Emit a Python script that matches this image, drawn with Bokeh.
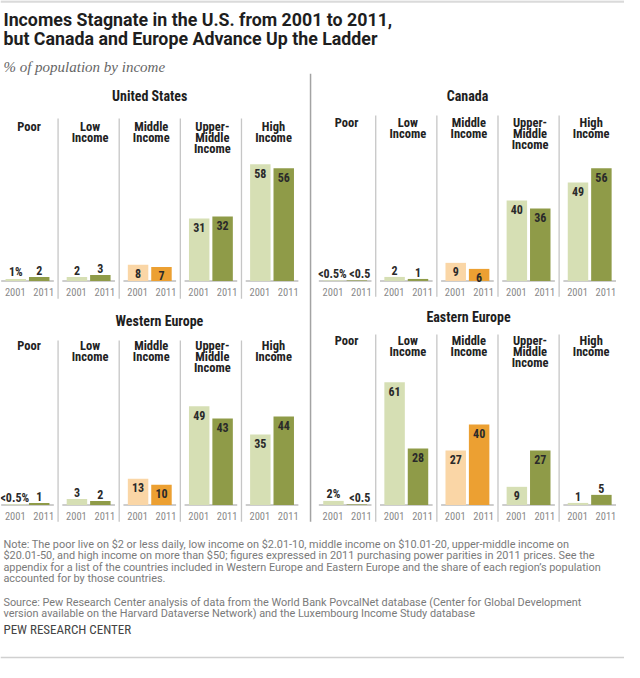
import subprocess
from bokeh.plotting import figure
from bokeh.models import Range1d
from bokeh.core.properties import value
from bokeh.embed import file_html
from bokeh.resources import INLINE

# ---------------- data ----------------
categories = ["Poor", "Low\nIncome", "Middle\nIncome", "Upper-\nMiddle\nIncome", "High\nIncome"]
years = ["2001", "2011"]
regions = ["United States", "Canada", "Western Europe", "Eastern Europe"]
us_2001 = [1, 2, 8, 31, 58]
us_2011 = [2, 3, 7, 32, 56]
canada_2001 = [0.3, 2, 9, 40, 49]
canada_2011 = [0.3, 1, 6, 36, 56]
weurope_2001 = [0.3, 3, 13, 49, 35]
weurope_2011 = [1, 2, 10, 43, 44]
eeurope_2001 = [2, 61, 27, 9, 1]
eeurope_2011 = [0.3, 28, 40, 27, 5]

title_lines = ["Incomes Stagnate in the U.S. from 2001 to 2011,",
               "but Canada and Europe Advance Up the Ladder"]
subtitle = "% of population by income"
note_lines = [
    "Note: The poor live on $2 or less daily, low income on $2.01-10, middle income on $10.01-20, upper-middle income on",
    "$20.01-50, and high income on more than $50; figures expressed in 2011 purchasing power parities in 2011 prices. See the",
    "appendix for a list of the countries included in Western Europe and Eastern Europe and the share of each region\u2019s population",
    "accounted for by those countries.",
]
source_lines = [
    "Source: Pew Research Center analysis of data from the World Bank PovcalNet database (Center for Global Development",
    "version available on the Harvard Dataverse Network) and the Luxembourg Income Study database",
]
credit = "PEW RESEARCH CENTER"

# ---------------- fonts ----------------
def font_available(name):
    try:
        out = subprocess.run(["fc-list", ":", "family"], capture_output=True,
                             text=True, timeout=10).stdout
    except Exception:
        return False
    return name.lower() in out.lower()

if font_available("Roboto Condensed"):
    COND, FS = "Roboto Condensed", 1.0
elif font_available("Liberation Sans Narrow"):
    COND, FS = "Liberation Sans Narrow", 1.0
else:
    COND, FS = "Roboto", 0.88
WIDE = "Roboto"
SERIF = "Liberation Serif"

def fs(n):
    return f"{n * FS:.1f}px"

# ---------------- colours ----------------
LIGHT_GREEN = "#d6dfb4"
DARK_GREEN = "#8f9b48"
LIGHT_ORANGE = "#fad6a6"
DARK_ORANGE = "#eca032"
SEP = "#c6c6c6"

# ---------------- layout (reference pixel frame) ----------------
X0, X1 = 0, 640
Y0, Y1 = 672, 4
STEP = 62.7          # px per income category
PX_PER_PCT = 2.03    # px per percentage point
LEFT_C0, RIGHT_C0 = 27.7, 353.5
TOP_BASE, BOT_BASE = 287, 513

p = figure(width=624, height=662, x_range=Range1d(X0, X1), y_range=Range1d(Y0, Y1),
           output_backend="svg", toolbar_location=None, min_border=0,
           x_axis_location=None, y_axis_location=None, outline_line_color=None,
           background_fill_color="white", border_fill_color="white")
p.grid.visible = False

p.extra_x_ranges = {
    "xl": Range1d((X0 - LEFT_C0) / STEP, (X1 - LEFT_C0) / STEP),
    "xr": Range1d((X0 - RIGHT_C0) / STEP, (X1 - RIGHT_C0) / STEP),
}
p.extra_y_ranges = {
    "yt": Range1d((TOP_BASE - Y0) / PX_PER_PCT, (TOP_BASE - Y1) / PX_PER_PCT),
    "yb": Range1d((BOT_BASE - Y0) / PX_PER_PCT, (BOT_BASE - Y1) / PX_PER_PCT),
}

def txt(xs, ys, texts, size, color="#222222", bold=False, italic=False, align="left",
        font=None, xr="default", yr="default", yoff=0, xoff=0, baseline="middle"):
    style = "bold" if bold else ("italic" if italic else "normal")
    p.text(x=xs, y=ys, text=texts, text_font=value(font or COND), text_font_size=size,
           text_font_style=style, text_color=color, text_align=align,
           text_baseline=baseline, x_offset=xoff, y_offset=yoff,
           x_range_name=xr, y_range_name=yr)

# rules
p.segment(x0=[0], y0=[5], x1=[640], y1=[5], line_color="#dadada", line_width=2.5)
p.segment(x0=[0], y0=[667], x1=[640], y1=[667], line_color="#d0d0d0", line_width=1.5)
# big divider
p.segment(x0=[318], y0=[78], x1=[318], y1=[530], line_color="#a3a3a3", line_width=1.5)

# titles
txt([3, 3], [22.7, 42], title_lines, "17.8px", color="#1e1e1e", bold=True, font=WIDE)
txt([3], [71], [subtitle], "15px", color="#666666", italic=True, font=SERIF)

panel_data = {
    "United States": (us_2001, us_2011, "xl", "yt"),
    "Canada": (canada_2001, canada_2011, "xr", "yt"),
    "Western Europe": (weurope_2001, weurope_2011, "xl", "yb"),
    "Eastern Europe": (eeurope_2001, eeurope_2011, "xr", "yb"),
}
panel_layout = {
    "United States": dict(c0=LEFT_C0, title=(153, 100), hdr=131, sep=(123, 305)),
    "Canada": dict(c0=RIGHT_C0, title=(479, 100), hdr=127, sep=(120, 303)),
    "Western Europe": dict(c0=LEFT_C0, title=(163, 327), hdr=352, sep=(347, 530)),
    "Eastern Europe": dict(c0=RIGHT_C0, title=(480, 323), hdr=347, sep=(341, 530)),
}

OFF = 12 / STEP
BW = 21 / STEP
HALF_BASE = 27 / STEP

def fmt(v, first):
    s = "<0.5" if v < 0.5 else f"{v:g}"
    return s + "%" if first else s

for region in regions:
    v01, v11, xr, yr = panel_data[region]
    lay = panel_layout[region]
    c0 = lay["c0"]
    idx = list(range(len(categories)))
    x01 = [i - OFF for i in idx]
    x11 = [i + OFF for i in idx]
    col01 = [LIGHT_ORANGE if c.startswith("Middle") else LIGHT_GREEN for c in categories]
    col11 = [DARK_ORANGE if c.startswith("Middle") else DARK_GREEN for c in categories]

    # panel title
    tx, ty = lay["title"]
    txt([tx], [ty], [region], fs(14), color="#1e1e1e", bold=True, align="center")

    # separators between categories
    sx = [c0 + STEP * (i + 0.5) for i in range(len(categories) - 1)]
    s0, s1 = lay["sep"]
    p.segment(x0=sx, y0=[s0] * len(sx), x1=sx, y1=[s1] * len(sx), line_color=SEP, line_width=1.3)

    # category headers (one text per line)
    hx, hy, ht = [], [], []
    for i, c in enumerate(categories):
        for k, line in enumerate(c.split("\n")):
            hx.append(c0 + STEP * i + 1.5)
            hy.append(lay["hdr"] + 11 * k)
            ht.append(line)
    txt(hx, hy, ht, fs(12.5), color="#222222", bold=True, align="center")

    # baselines
    p.segment(x0=[i - HALF_BASE for i in idx], y0=[0] * 5, x1=[i + HALF_BASE for i in idx],
              y1=[0] * 5, line_color="#bdbdbd", line_width=1.5,
              x_range_name=xr, y_range_name=yr)

    # bars
    p.vbar(x=x01, top=v01, bottom=0, width=BW, fill_color=col01, line_color=None,
           x_range_name=xr, y_range_name=yr)
    p.vbar(x=x11, top=v11, bottom=0, width=BW, fill_color=col11, line_color=None,
           x_range_name=xr, y_range_name=yr)

    # value labels
    for xs, vals, first in ((x01, v01, True), (x11, v11, False)):
        items = [(x, v, fmt(v, first and i == 0)) for i, (x, v) in enumerate(zip(xs, vals))]
        inside = [a for a in items if a[1] >= 6]
        above = [a for a in items if a[1] < 6]
        if inside:
            txt([a[0] for a in inside], [a[1] for a in inside], [a[2] for a in inside],
                fs(12), color="#2a2a2a", bold=True, align="center", xr=xr, yr=yr, yoff=9)
        if above:
            xo = [3 if (a[2].startswith("<") and not first) else (-1 if a[2].startswith("<") else 0)
                  for a in above]
            txt([a[0] for a in above], [a[1] for a in above], [a[2] for a in above],
                fs(12), color="#2a2a2a", bold=True, align="center", xr=xr, yr=yr,
                yoff=-6.5, xoff=xo)

    # year labels
    txt(x01, [0] * 5, [years[0]] * 5, fs(10.5), color="#8a8a8a", align="center",
        xr=xr, yr=yr, yoff=11.5, xoff=-0.5)
    txt(x11, [0] * 5, [years[1]] * 5, fs(10.5), color="#8a8a8a", align="center",
        xr=xr, yr=yr, yoff=11.5, xoff=4.5)

# notes
txt([3] * 4, [553, 564.5, 576, 587.5], note_lines, "10.9px", color="#7a7a7a", font=WIDE)
txt([3] * 2, [611, 622.5], source_lines, "10.9px", color="#7a7a7a", font=WIDE)
txt([3], [639], [credit], fs(13), color="#444444")

open("out.html", "w").write(file_html(p, INLINE))
